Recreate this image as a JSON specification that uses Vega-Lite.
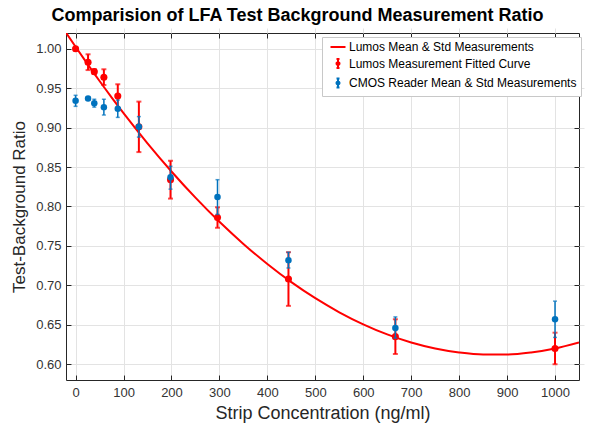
{
  "$schema": "https://vega.github.io/schema/vega-lite/v6.json",
  "width": 513,
  "height": 347,
  "autosize": {"type": "none"},
  "padding": {"left": 66, "top": 33, "right": 10, "bottom": 47},
  "background": "white",
  "title": {"text": "Comparision of LFA Test Background Measurement Ratio", "fontSize": 18, "font": "Liberation Sans", "fontWeight": "bold", "color": "black", "anchor": "middle", "dx": -25, "offset": 5},
  "config": {
    "view": {"stroke": "#262626", "strokeWidth": 1},
    "axis": {"grid": true, "gridColor": "#e3e3e3", "gridWidth": 1, "domain": false, "tickColor": "#262626", "tickWidth": 1, "tickSize": 5, "offset": -5, "labelFont": "Liberation Sans", "labelFontSize": 13, "labelColor": "#333333", "titleFont": "Liberation Sans", "titleFontWeight": "normal", "titleColor": "#262626"}
  },
  "datasets": {
    "lumos": [
      {"conc": 0, "mean": 1.000, "lo": 0.998, "hi": 1.002},
      {"conc": 26, "mean": 0.983, "lo": 0.973, "hi": 0.993},
      {"conc": 39, "mean": 0.971, "lo": 0.968, "hi": 0.974},
      {"conc": 59, "mean": 0.964, "lo": 0.954, "hi": 0.974},
      {"conc": 88, "mean": 0.940, "lo": 0.925, "hi": 0.955},
      {"conc": 132, "mean": 0.901, "lo": 0.869, "hi": 0.933},
      {"conc": 198, "mean": 0.834, "lo": 0.810, "hi": 0.858},
      {"conc": 296, "mean": 0.786, "lo": 0.773, "hi": 0.799},
      {"conc": 444, "mean": 0.708, "lo": 0.674, "hi": 0.742},
      {"conc": 667, "mean": 0.635, "lo": 0.613, "hi": 0.657},
      {"conc": 1000, "mean": 0.620, "lo": 0.600, "hi": 0.640}
    ],
    "cmos": [
      {"conc": 0, "mean": 0.934, "lo": 0.927, "hi": 0.941},
      {"conc": 26, "mean": 0.937, "lo": 0.935, "hi": 0.939},
      {"conc": 39, "mean": 0.931, "lo": 0.926, "hi": 0.936},
      {"conc": 59, "mean": 0.926, "lo": 0.916, "hi": 0.936},
      {"conc": 88, "mean": 0.924, "lo": 0.913, "hi": 0.935},
      {"conc": 132, "mean": 0.901, "lo": 0.888, "hi": 0.914},
      {"conc": 198, "mean": 0.837, "lo": 0.822, "hi": 0.851},
      {"conc": 296, "mean": 0.812, "lo": 0.790, "hi": 0.834},
      {"conc": 444, "mean": 0.732, "lo": 0.722, "hi": 0.742},
      {"conc": 667, "mean": 0.646, "lo": 0.633, "hi": 0.660},
      {"conc": 1000, "mean": 0.657, "lo": 0.634, "hi": 0.680}
    ],
    "fit": [
      {"conc": -20, "ratio": 1.0205},
      {"conc": 0, "ratio": 1.0025},
      {"conc": 25, "ratio": 0.9805},
      {"conc": 50, "ratio": 0.9591},
      {"conc": 75, "ratio": 0.9384},
      {"conc": 100, "ratio": 0.9183},
      {"conc": 150, "ratio": 0.8801},
      {"conc": 200, "ratio": 0.8444},
      {"conc": 250, "ratio": 0.8112},
      {"conc": 300, "ratio": 0.7806},
      {"conc": 350, "ratio": 0.7526},
      {"conc": 400, "ratio": 0.7271},
      {"conc": 450, "ratio": 0.7041},
      {"conc": 500, "ratio": 0.6837},
      {"conc": 550, "ratio": 0.6659},
      {"conc": 600, "ratio": 0.6506},
      {"conc": 650, "ratio": 0.6378},
      {"conc": 700, "ratio": 0.6276},
      {"conc": 750, "ratio": 0.6200},
      {"conc": 800, "ratio": 0.6149},
      {"conc": 850, "ratio": 0.6123},
      {"conc": 900, "ratio": 0.6123},
      {"conc": 950, "ratio": 0.6149},
      {"conc": 1000, "ratio": 0.6200},
      {"conc": 1050, "ratio": 0.6276}
    ]
  },
  "layer": [
    {
      "layer": [
        {
          "data": {"name": "fit"},
          "mark": {"type": "line", "strokeWidth": 2, "clip": true, "interpolate": "monotone"},
          "encoding": {
            "x": {"field": "conc", "type": "quantitative", "scale": {"domain": [-20, 1050], "nice": false, "zero": false}, "axis": {"values": [0, 100, 200, 300, 400, 500, 600, 700, 800, 900, 1000], "format": "d", "labelPadding": 6, "title": "Strip Concentration (ng/ml)", "titleFontSize": 18, "titlePadding": 5}},
            "y": {"field": "ratio", "type": "quantitative", "scale": {"domain": [0.58, 1.02], "nice": false, "zero": false}, "axis": {"values": [0.6, 0.65, 0.7, 0.75, 0.8, 0.85, 0.9, 0.95, 1.0], "format": ".2f", "labelPadding": 5, "title": "Test-Background Ratio", "titleFontSize": 17, "titlePadding": 7}},
            "color": {
              "datum": "Lumos Mean & Std Measurements",
              "type": "nominal",
              "scale": {"domain": ["Lumos Mean & Std Measurements", "Lumos Measurement Fitted Curve", "CMOS Reader Mean & Std Measurements"], "range": ["#ff0000", "#ff0000", "#0072bd"]},
              "legend": {
                "orient": "none", "legendX": 256, "legendY": 4, "title": null,
                "fillColor": "white", "strokeColor": "#c8c8c8", "padding": 4,
                "labelFontSize": 12, "labelFont": "Liberation Sans", "labelColor": "black", "labelLimit": 400,
                "symbolSize": 100, "rowPadding": 1.5, "labelOffset": 5, "symbolOffset": 6,
                "encode": {"symbols": {"update": {
                  "shape": {"signal": "datum.value === 'Lumos Mean & Std Measurements' ? 'M-1.5,0H1.5' : 'M0,-0.9V0.9M-0.3,-0.9H0.3M-0.3,0.9H0.3M-0.3,0A0.3,0.3 0 1,0 0.3,0A0.3,0.3 0 1,0 -0.3,0Z'"},
                  "strokeWidth": {"value": 2},
                  "stroke": {"signal": "scale('color', datum.value)"},
                  "fill": {"signal": "scale('color', datum.value)"},
                  "opacity": {"value": 1}
                }}}
              }
            }
          }
        },
        {
          "data": {"name": "lumos"},
          "mark": {"type": "rule", "strokeWidth": 2},
          "encoding": {
            "x": {"field": "conc", "type": "quantitative"},
            "y": {"field": "lo", "type": "quantitative"},
            "y2": {"field": "hi"},
            "color": {"datum": "Lumos Measurement Fitted Curve", "type": "nominal"}
          }
        },
        {
          "data": {"name": "lumos"},
          "mark": {"type": "tick", "orient": "horizontal", "size": 5, "thickness": 2},
          "encoding": {
            "x": {"field": "conc", "type": "quantitative"},
            "y": {"field": "lo", "type": "quantitative"},
            "color": {"datum": "Lumos Measurement Fitted Curve", "type": "nominal"}
          }
        },
        {
          "data": {"name": "lumos"},
          "mark": {"type": "tick", "orient": "horizontal", "size": 5, "thickness": 2},
          "encoding": {
            "x": {"field": "conc", "type": "quantitative"},
            "y": {"field": "hi", "type": "quantitative"},
            "color": {"datum": "Lumos Measurement Fitted Curve", "type": "nominal"}
          }
        },
        {
          "data": {"name": "lumos"},
          "mark": {"type": "point", "filled": true, "size": 50, "opacity": 1},
          "encoding": {
            "x": {"field": "conc", "type": "quantitative"},
            "y": {"field": "mean", "type": "quantitative"},
            "color": {"datum": "Lumos Measurement Fitted Curve", "type": "nominal"}
          }
        },
        {
          "data": {"name": "cmos"},
          "mark": {"type": "rule", "strokeWidth": 1.5},
          "encoding": {
            "x": {"field": "conc", "type": "quantitative"},
            "y": {"field": "lo", "type": "quantitative"},
            "y2": {"field": "hi"},
            "color": {"datum": "CMOS Reader Mean & Std Measurements", "type": "nominal"}
          }
        },
        {
          "data": {"name": "cmos"},
          "mark": {"type": "tick", "orient": "horizontal", "size": 4, "thickness": 1.5},
          "encoding": {
            "x": {"field": "conc", "type": "quantitative"},
            "y": {"field": "lo", "type": "quantitative"},
            "color": {"datum": "CMOS Reader Mean & Std Measurements", "type": "nominal"}
          }
        },
        {
          "data": {"name": "cmos"},
          "mark": {"type": "tick", "orient": "horizontal", "size": 4, "thickness": 1.5},
          "encoding": {
            "x": {"field": "conc", "type": "quantitative"},
            "y": {"field": "hi", "type": "quantitative"},
            "color": {"datum": "CMOS Reader Mean & Std Measurements", "type": "nominal"}
          }
        },
        {
          "data": {"name": "cmos"},
          "mark": {"type": "point", "filled": true, "size": 42, "opacity": 1},
          "encoding": {
            "x": {"field": "conc", "type": "quantitative"},
            "y": {"field": "mean", "type": "quantitative"},
            "color": {"datum": "CMOS Reader Mean & Std Measurements", "type": "nominal"}
          }
        }
      ]
    },
    {
      "data": {"name": "fit"},
      "mark": {"type": "point", "opacity": 0},
      "encoding": {
        "x": {"field": "conc", "type": "quantitative", "axis": {"orient": "top", "values": [0, 100, 200, 300, 400, 500, 600, 700, 800, 900, 1000], "labels": false, "grid": false, "title": null}},
        "y": {"field": "ratio", "type": "quantitative", "axis": {"orient": "right", "values": [0.6, 0.65, 0.7, 0.75, 0.8, 0.85, 0.9, 0.95, 1.0], "labels": false, "grid": false, "title": null}}
      }
    }
  ],
  "resolve": {"axis": {"x": "independent", "y": "independent"}}
}
